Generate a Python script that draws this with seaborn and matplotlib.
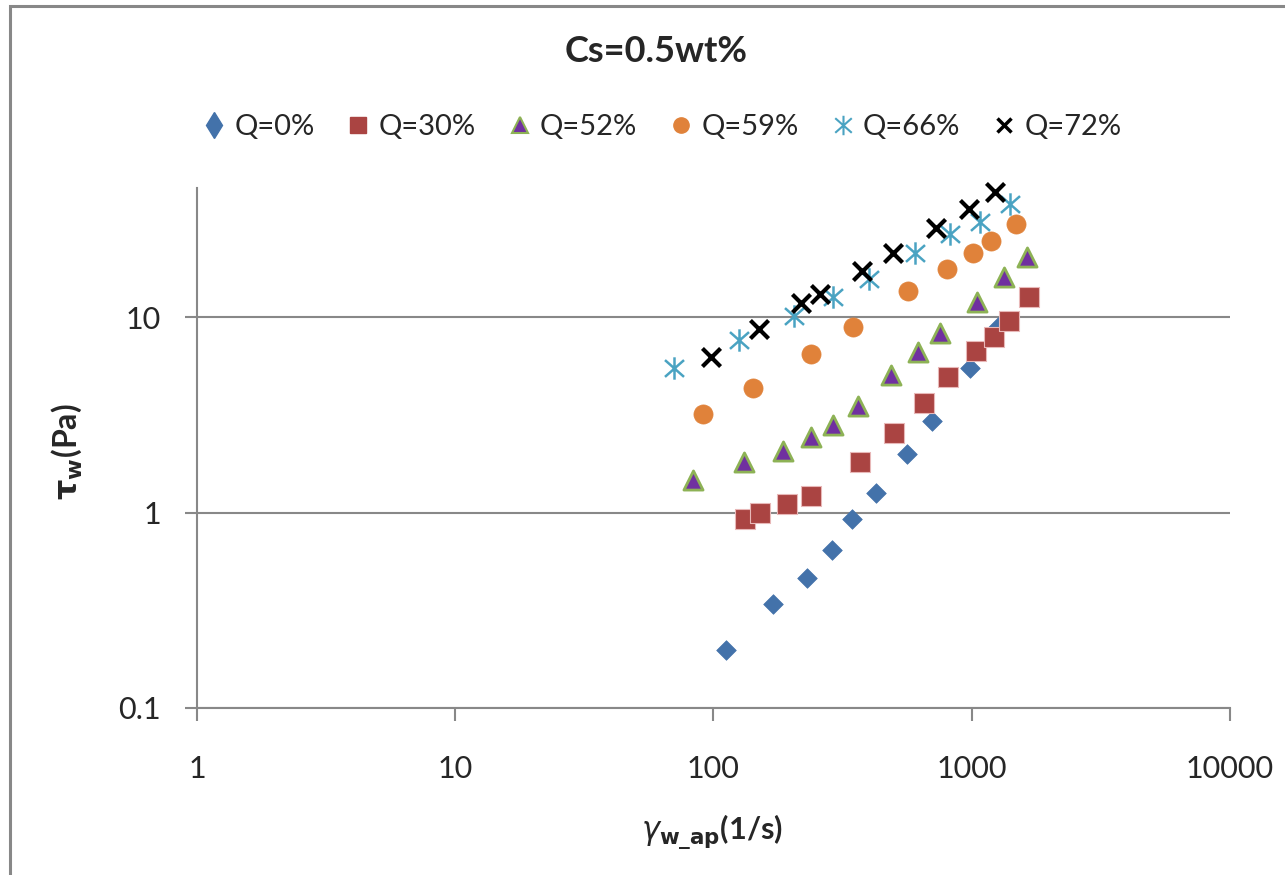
import numpy as np
import matplotlib
matplotlib.use('Agg')
import matplotlib.pyplot as plt
import seaborn as sns
from matplotlib.lines import Line2D
from matplotlib.path import Path
from matplotlib.patches import Rectangle

# data (wall shear rate 1/s, wall shear stress Pa)
q0_x = [111.5, 170, 230, 287, 343, 425, 563, 700, 986, 1267]
q0_y = [0.199, 0.341, 0.461, 0.643, 0.932, 1.26, 2.0, 2.94, 5.5, 8.97]

q30_x = [133, 151, 192, 239, 368, 499, 655, 809, 1036, 1216, 1400, 1663]
q30_y = [0.929, 0.992, 1.108, 1.217, 1.823, 2.557, 3.665, 4.944, 6.76, 7.92, 9.63, 12.78]

q52_x = [83.1, 131.6, 185.8, 238.6, 289.5, 363.7, 488, 619, 755, 1045, 1337, 1632]
q52_y = [1.475, 1.808, 2.059, 2.427, 2.818, 3.526, 5.06, 6.61, 8.30, 11.93, 16.05, 20.3]

q59_x = [91.3, 141.8, 238.6, 347.8, 566.5, 800, 1011, 1187, 1480]
q59_y = [3.21, 4.34, 6.49, 8.89, 13.66, 17.7, 21.45, 24.6, 30.2]

q66_x = [70.4, 125.6, 205.3, 291, 399, 603, 824, 1079, 1406]
q66_y = [5.48, 7.67, 10.2, 12.78, 15.74, 21.3, 26.6, 30.7, 37.9]

q72_x = [98.2, 150.1, 218.2, 258.5, 375, 494, 725, 976, 1230]
q72_y = [6.24, 8.74, 11.82, 13.19, 17.3, 21.45, 28.6, 35.8, 44.0]

labels = ['Q=0%', 'Q=30%', 'Q=52%', 'Q=59%', 'Q=66%', 'Q=72%']
x_ticks = [1, 10, 100, 1000, 10000]
y_ticks = [0.1, 1, 10]

sns.set_style('white')
plt.rcParams['font.family'] = ['Lato', 'DejaVu Sans']
plt.rcParams['mathtext.fontset'] = 'dejavusans'

# excel-like star: vertical bar plus an X
star = Path([(0, -1), (0, 1), (-0.85, -0.75), (0.85, 0.75), (-0.85, 0.75), (0.85, -0.75)],
            [Path.MOVETO, Path.LINETO, Path.MOVETO, Path.LINETO, Path.MOVETO, Path.LINETO])

series = [
    (q0_x, q0_y, dict(marker='D', s=100, color='#4372AA', edgecolor='#4372AA', linewidth=0.5)),
    (q30_x, q30_y, dict(marker='s', s=200, color='#AA4442', edgecolor='#E8B8B8', linewidth=0.8)),
    (q52_x, q52_y, dict(marker='^', s=190, color='#7030A0', edgecolor='#8DB255', linewidth=2)),
    (q59_x, q59_y, dict(marker='o', s=190, color='#E0823A', edgecolor='#E0823A', linewidth=0.5)),
    (q66_x, q66_y, dict(marker=star, s=260, color='#4AA3C2', edgecolor='#4AA3C2', linewidth=1.8)),
    (q72_x, q72_y, dict(marker='x', s=170, color='black', linewidth=3)),
]

fig = plt.figure(figsize=(12.85, 8.75), dpi=100)
ax = fig.add_axes([0.1533, 0.1909, 0.8039, 0.5939])

for xs, ys, kw in series:
    sns.scatterplot(x=xs, y=ys, ax=ax, legend=False, clip_on=False, zorder=3, **kw)

ax.set_xscale('log')
ax.set_yscale('log')
ax.set_xlim(1, 10000)
ax.set_ylim(0.1, 45.8)
ax.set_xticks(x_ticks, [str(t) for t in x_ticks])
ax.set_yticks(y_ticks, ['0.1', '1', '10'])
ax.minorticks_off()
ax.tick_params(axis='x', direction='out', length=9, width=1.5, color='#888888',
               pad=25, labelsize=22, bottom=True)
ax.tick_params(axis='y', direction='out', length=9, width=1.5, color='#888888',
               pad=17, labelsize=22, left=True)
ax.yaxis.grid(True, color='#888888', linewidth=1.5)
ax.xaxis.grid(False)
ax.set_axisbelow(True)
for side in ['top', 'right']:
    ax.spines[side].set_visible(False)
for side in ['left', 'bottom']:
    ax.spines[side].set_color('#888888')
    ax.spines[side].set_linewidth(1.5)

fig.text(0.5105, 0.9406, 'Cs=0.5wt%', ha='center', va='center', fontsize=26, fontweight='bold')
fig.text(0.554, 0.049, r'$\gamma_{\mathbf{w\_ap}}$(1/s)', ha='center', va='center',
         fontsize=22, fontweight='bold')
fig.text(0.052, 0.4834, r'$\mathbf{\tau}_{\mathbf{w}}$(Pa)', ha='center', va='center',
         rotation=90, fontsize=23, fontweight='bold')

handles = [
    Line2D([], [], linestyle='none', marker='d', markersize=13, color='#4372AA'),
    Line2D([], [], linestyle='none', marker='s', markersize=11, color='#AA4442'),
    Line2D([], [], linestyle='none', marker='^', markersize=12, markerfacecolor='#7030A0',
           markeredgecolor='#8DB255', markeredgewidth=1.5),
    Line2D([], [], linestyle='none', marker='o', markersize=11, color='#E0823A'),
    Line2D([], [], linestyle='none', marker=star, markersize=14, color='#4AA3C2',
           markeredgewidth=1.5),
    Line2D([], [], linestyle='none', marker='x', markersize=10, color='black',
           markeredgewidth=2.5),
]
fig.legend(handles, labels, loc='center', bbox_to_anchor=(0.514, 0.855), ncol=6,
           frameon=False, fontsize=21, handletextpad=0.2, columnspacing=1.0,
           handlelength=1.0)

fig.add_artist(Rectangle((0.0078, -0.1), 1.2, 1.0931, transform=fig.transFigure,
                         fill=False, edgecolor='#888888', linewidth=2.2, clip_on=False))

plt.savefig('out.png', dpi=100)
